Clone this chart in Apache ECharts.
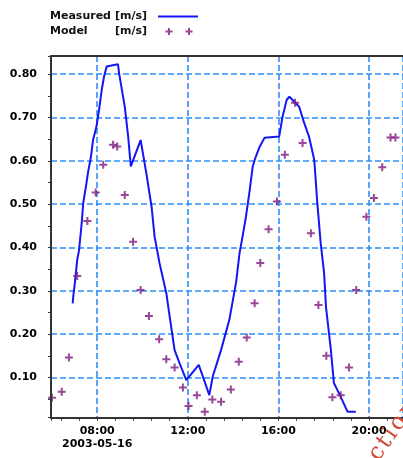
<!DOCTYPE html>
<html><head><meta charset="utf-8">
<script src="https://cdn.jsdelivr.net/npm/echarts@6/dist/echarts.min.js"></script>
<style>html,body{margin:0;padding:0;background:#fff}#c{width:403px;height:458px}</style>
</head><body><div id="c"></div>
<script>
// ---- data ----
const measuredTimes = ['06:55','06:57','07:01','07:07','07:12','07:14','07:19','07:23','07:30','07:36','07:43','07:49','07:58','08:05','08:12','08:18','08:25','08:55','08:58','09:13','09:22','09:29','09:55','10:10','10:24','10:32','10:45','11:03','11:12','11:25','11:38','11:56','12:29','12:57','13:06','13:28','13:50','14:08','14:17','14:25','14:34','14:43','14:52','14:59','15:09','15:23','16:02','16:11','16:22','16:29','16:55','17:08','17:21','17:35','17:43','17:52','18:01','18:06','18:19','18:27','18:45','19:03','19:25'];
const measuredValues = [0.271,0.290,0.320,0.371,0.394,0.413,0.457,0.503,0.540,0.575,0.607,0.648,0.679,0.718,0.764,0.794,0.818,0.823,0.802,0.725,0.656,0.587,0.648,0.572,0.494,0.425,0.364,0.295,0.240,0.163,0.133,0.094,0.129,0.059,0.102,0.163,0.233,0.320,0.387,0.425,0.471,0.526,0.587,0.607,0.630,0.653,0.656,0.702,0.741,0.748,0.725,0.688,0.656,0.602,0.503,0.410,0.341,0.263,0.163,0.087,0.055,0.021,0.021];
const modelTimes = ['06:00','06:26','06:45','07:07','07:34','07:56','08:16','08:42','08:53','09:13','09:35','09:55','10:17','10:44','11:03','11:25','11:47','12:02','12:24','12:45','13:05','13:28','13:54','14:15','14:36','14:57','15:12','15:34','15:56','16:17','16:44','17:04','17:26','17:46','18:07','18:23','18:45','19:07','19:26','19:53','20:13','20:35','20:57','21:10'];
const modelValues = [0.053,0.067,0.146,0.334,0.461,0.527,0.591,0.637,0.633,0.521,0.413,0.302,0.242,0.188,0.142,0.123,0.077,0.034,0.059,0.021,0.049,0.044,0.072,0.136,0.192,0.271,0.364,0.442,0.506,0.614,0.734,0.641,0.433,0.267,0.150,0.054,0.059,0.123,0.302,0.471,0.514,0.585,0.654,0.654];
const xTickLabels = ['08:00','12:00','16:00','20:00'];
const dateLabel = '2003-05-16';
const seriesNames = ['Measured','Model'];
const unitLabel = '[m/s]';
const watermarkText = 'c\u200At\u200Ai\u200Ao\u200An';

// ---- helpers ----
const toHours = s => { const p = s.split(':'); return +p[0] + (+p[1]) / 60; };
const pairs = (ts, vs) => ts.map((t, i) => [toHours(t), vs[i]]);
const xTickHours = xTickLabels.map(toHours);

const FONT = '"DejaVu Sans", sans-serif';
const X_MIN = 5.96, X_MAX = 21.5, Y_MIN = 0.007, Y_MAX = 0.842;
const BLUE = '#1515f5', PURPLE = '#7e1a7e', GRID = '#2e8ef8', FRAME = '#333';
const plusPath = 'path://M3,0H5V3H8V5H5V8H3V5H0V3H3Z';
const pad = 'M0,0h0.01v0.01h-0.01z M40,12h-0.01v-0.01h0.01z ';
const lineIcon = 'path://' + pad + 'M0,5h40v2h-40z';
const crossIcon = 'path://' + pad +
  'M10,2.5h2v2.5h2.5v2h-2.5v2.5h-2v-2.5h-2.5v-2h2.5z M30,2.5h2v2.5h2.5v2h-2.5v2.5h-2v-2.5h-2.5v-2h2.5z';

const txt = {fontFamily: FONT, fontSize: 11, fontWeight: 'bold', color: '#111'};
const dashed = {show: true, lineStyle: {type: [6, 3], color: GRID, width: 1.6}};

const chart = echarts.init(document.getElementById('c'), null, {renderer: 'canvas'});
chart.setOption({
  animation: false,
  backgroundColor: '#fff',
  legend: {
    orient: 'vertical', left: 50, top: 10.5, align: 'right', padding: 0,
    itemWidth: 40, itemHeight: 12, itemGap: 3,
    itemStyle: {borderWidth: 0},
    textStyle: Object.assign({}, txt, {lineHeight: 12, rich: {
      a: Object.assign({}, txt, {width: 65, lineHeight: 12, align: 'left'}),
      b: Object.assign({}, txt, {width: 38, lineHeight: 12, align: 'left'})
    }}),
    formatter: name => '{a|' + name + '}{b|' + unitLabel + '}',
    data: [
      {name: seriesNames[0], icon: lineIcon, itemStyle: {color: BLUE, borderWidth: 0}},
      {name: seriesNames[1], icon: crossIcon, itemStyle: {color: PURPLE, borderWidth: 0}}
    ]
  },
  grid: {left: 51, right: -1.2, top: 56, bottom: 40.3, containLabel: false},
  xAxis: [
    {type: 'value', min: X_MIN, max: X_MAX, minInterval: 4, maxInterval: 4, z: 0,
     axisLine: {show: false}, axisTick: {show: false},
     axisLabel: Object.assign({}, txt, {color: '#000', margin: 7, lineHeight: 13,
       showMinLabel: false, showMaxLabel: false,
       formatter: v => {
         const i = xTickHours.findIndex(h => Math.abs(h - v) < 1e-6);
         if (i < 0) return '';
         return i === 0 ? xTickLabels[i] + '\n' + dateLabel : xTickLabels[i];
       }}),
     splitLine: dashed},
    {type: 'value', min: X_MIN, max: X_MAX, minInterval: 0.8, maxInterval: 0.8, position: 'bottom', z: 10,
     axisLine: {show: true, lineStyle: {color: FRAME, width: 2}},
     axisTick: {show: true, length: 3, lineStyle: {color: FRAME, width: 1}},
     axisLabel: {show: false}, splitLine: {show: false}},
    {type: 'value', min: X_MIN, max: X_MAX, position: 'top', z: 10,
     axisLine: {show: true, lineStyle: {color: FRAME, width: 2}},
     axisTick: {show: false}, axisLabel: {show: false}, splitLine: {show: false}}
  ],
  yAxis: [
    {type: 'value', min: Y_MIN, max: Y_MAX, minInterval: 0.1, maxInterval: 0.1, z: 0,
     axisLine: {show: false}, axisTick: {show: false},
     axisLabel: Object.assign({}, txt, {color: '#000', margin: 14,
       showMinLabel: false, showMaxLabel: false, formatter: v => v.toFixed(2)}),
     splitLine: dashed},
    {type: 'value', min: Y_MIN, max: Y_MAX, minInterval: 0.05, maxInterval: 0.05, position: 'left', z: 10,
     axisLine: {show: true, lineStyle: {color: FRAME, width: 2}},
     axisTick: {show: true, length: 3, lineStyle: {color: FRAME, width: 1}},
     axisLabel: {show: false}, splitLine: {show: false}}
  ],
  series: [
    {name: seriesNames[0], type: 'line', xAxisIndex: 0, yAxisIndex: 0, z: 3,
     data: pairs(measuredTimes, measuredValues), symbol: 'none', showSymbol: false,
     lineStyle: {color: BLUE, width: 2}, itemStyle: {color: BLUE}},
    {name: seriesNames[1], type: 'scatter', xAxisIndex: 0, yAxisIndex: 0, z: 4,
     data: pairs(modelTimes, modelValues), symbol: plusPath, symbolSize: 8,
     itemStyle: {color: PURPLE}}
  ],
  graphic: [
    {type: 'text', x: 383, y: 465, rotation: 0.96, silent: true, z: 20,
     style: {text: watermarkText, font: '23px "DejaVu Serif", serif', fill: '#cf4a36',
             align: 'left', verticalAlign: 'bottom'}}
  ]
});
</script></body></html>
